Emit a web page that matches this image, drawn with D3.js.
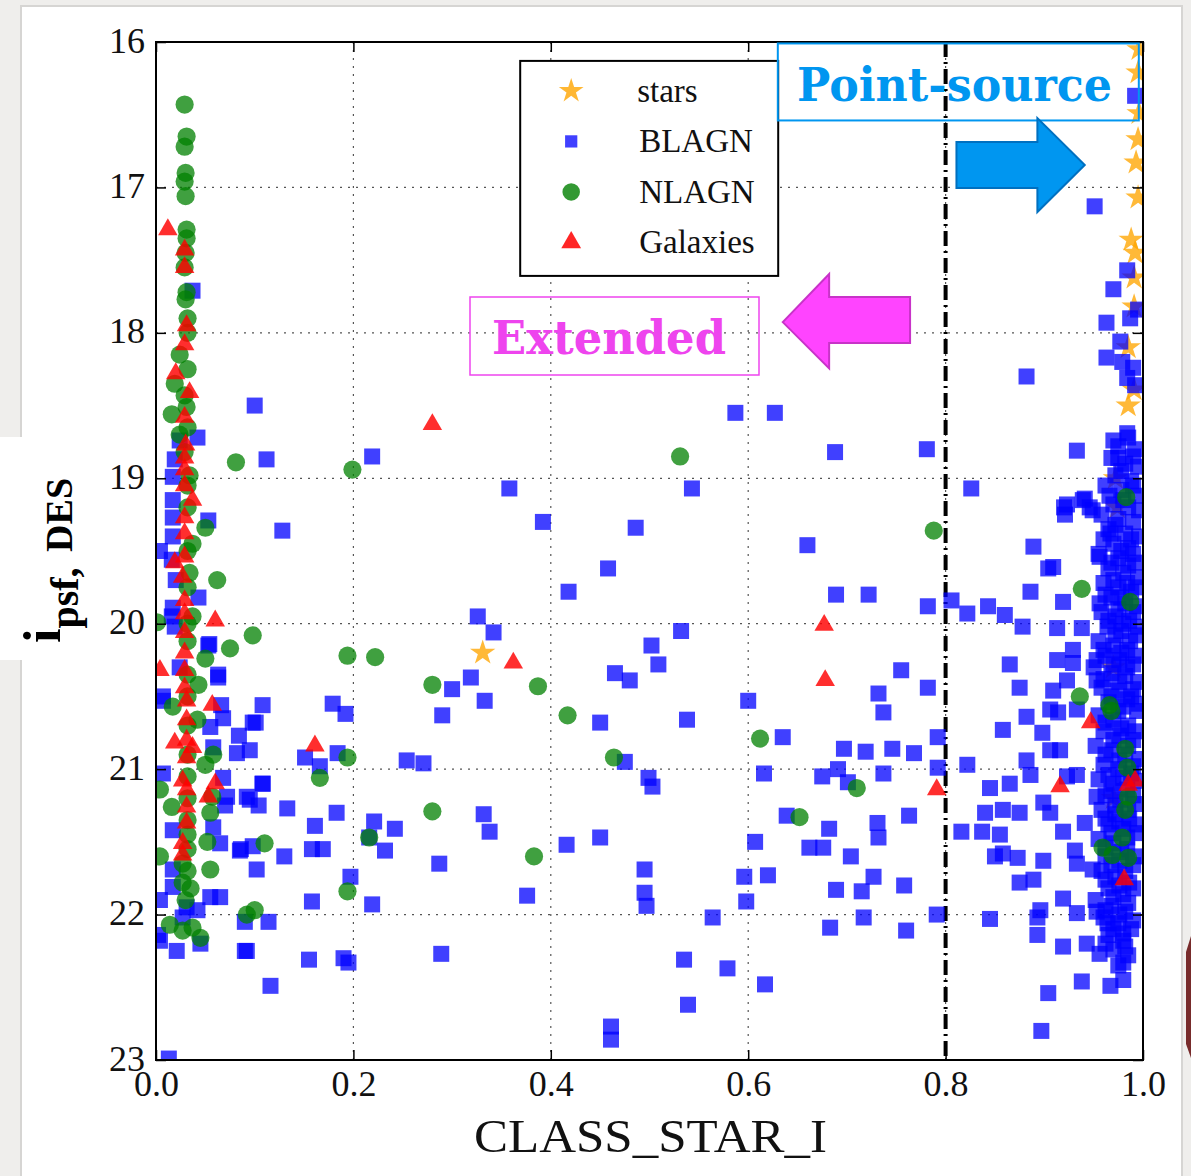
<!DOCTYPE html>
<html><head><meta charset="utf-8">
<script src="https://cdn.jsdelivr.net/npm/d3@7"></script>
<style>body{margin:0;background:#efeeec;} svg{display:block}</style>
</head><body>
<svg id="c" width="1191" height="1176"></svg>
<script>
// ---------------- DATA ----------------
const xTicks = [0.0, 0.2, 0.4, 0.6, 0.8, 1.0];
const yTicks = [16, 17, 18, 19, 20, 21, 22, 23];
const legendLabels = ["stars", "BLAGN", "NLAGN", "Galaxies"];
const xLabel = "CLASS_STAR_I";
const cutValue = 0.8;

const starsData = [
  [0.331,20.2],
  [0.996,16.05],[0.995,16.21],[0.996,16.49],[0.995,16.67],[0.993,16.83],[0.995,17.07],
  [0.988,17.36],[0.992,17.45],[0.991,17.62],[0.991,17.82],[0.985,18.1],[0.991,18.39],
  [0.985,18.5],[0.972,19.0],[0.974,19.2],[0.97,20.3],[0.97,21.2]
];

const blagnLeft = [
  [0.037,17.71],[0.042,18.72],[0.024,18.74],[0.019,18.87],[0.017,18.99],[0.017,19.15],[0.017,19.27],
  [0.053,19.29],[0.017,19.4],[0.004,19.5],[0.016,19.56],[0.02,19.7],[0.043,19.82],[0.017,19.89],
  [0.016,19.95],[0.019,20.02],[0.053,20.15],[0.024,20.3],[0.063,20.35],[0.007,20.5],[0.007,20.53],
  [0.108,20.56],[0.098,20.68],[0.068,20.65],[0.055,20.71],[0.082,20.89],[0.095,20.87],[0.058,20.85],
  [0.007,21.03],[0.068,21.06],[0.108,21.1],[0.072,21.19],[0.095,21.21],[0.058,21.4],[0.017,21.42],
  [0.085,21.56],[0.065,21.51],[0.102,21.69],[0.017,21.69],[0.017,21.81],[0.004,21.9],[0.031,21.95],
  [0.042,21.97],[0.055,21.88],[0.065,21.88],[0.027,22.02],[0.092,22.25],[0.021,22.25],[0.004,22.18],
  [0.045,22.2],[0.002,22.14],[0.013,22.99]
];

const blagnMid = [
  [0.1,18.5],[0.112,18.87],[0.219,18.85],[0.358,19.07],[0.543,19.07],[0.392,19.3],[0.486,19.34],
  [0.128,19.36],[0.66,19.46],[0.781,18.8],[0.826,19.07],[0.587,18.55],[0.627,18.55],[0.688,18.82],
  [0.458,19.62],[0.418,19.78],[0.326,19.95],[0.342,20.06],[0.689,19.8],[0.722,19.8],[0.782,19.88],
  [0.806,19.84],[0.822,19.93],[0.843,19.88],[0.886,19.78],[0.904,19.62],[0.889,19.47],[0.92,19.2],
  [0.941,19.14],[0.949,19.22],
  [0.319,20.37],[0.3,20.45],[0.333,20.53],[0.29,20.63],[0.509,20.28],[0.48,20.39],[0.465,20.34],
  [0.502,20.15],[0.532,20.05],[0.45,20.68],[0.538,20.66],[0.6,20.53],[0.755,20.32],[0.732,20.48],
  [0.737,20.61],[0.782,20.44],[0.179,20.55],[0.192,20.62],[0.101,20.68],[0.084,20.77],[0.066,20.56],
  [0.063,20.37],[0.054,20.14],
  [0.635,20.78],[0.697,20.86],[0.719,20.88],[0.746,20.86],[0.768,20.89],[0.792,20.78],
  [0.151,20.92],[0.166,20.98],[0.254,20.94],[0.271,20.96],[0.184,20.89],[0.475,20.95],[0.499,21.06],
  [0.503,21.12],[0.616,21.03],[0.675,21.05],[0.691,21.0],[0.701,21.09],[0.737,21.03],[0.792,20.99],
  [0.822,20.97],[0.108,21.1],[0.092,21.19],[0.07,21.25],
  [0.104,21.25],[0.133,21.27],[0.161,21.39],[0.183,21.3],[0.216,21.47],[0.221,21.36],[0.242,21.41],
  [0.332,21.31],[0.338,21.43],[0.086,21.55],[0.098,21.53],[0.13,21.6],[0.158,21.55],[0.169,21.55],
  [0.232,21.56],[0.416,21.52],[0.45,21.47],
  [0.607,21.5],[0.639,21.32],[0.662,21.54],[0.676,21.54],[0.682,21.41],[0.704,21.6],[0.731,21.37],
  [0.732,21.47],[0.763,21.32],[0.837,21.43],[0.816,21.43],
  [0.495,21.69],[0.495,21.85],[0.497,21.94],[0.596,21.74],[0.62,21.73],[0.689,21.83],[0.715,21.84],
  [0.727,21.74],[0.758,21.8],[0.287,21.65],[0.376,21.87],[0.219,21.93],[0.158,21.91],[0.114,22.05],
  [0.09,22.05],[0.197,21.74],
  [0.564,22.02],[0.598,21.91],[0.683,22.09],[0.717,22.02],[0.76,22.11],[0.791,22.0],[0.845,22.03],
  [0.09,22.25],[0.155,22.31],[0.19,22.3],[0.195,22.33],[0.289,22.27],[0.116,22.49],[0.535,22.31],
  [0.579,22.37],[0.617,22.48],[0.539,22.62],[0.461,22.77],[0.461,22.86]
];

const blagnRight = [
  [0.992,16.37],[0.951,17.13],[0.97,17.7],[0.984,17.57],[0.963,17.93],[0.987,17.9],[0.995,17.84],
  [0.977,18.06],[0.963,18.17],[0.979,18.2],[0.99,18.24],[0.984,18.31],[0.882,18.3],[0.992,18.36],
  [0.984,18.69],[0.97,18.74],[0.933,18.81],[0.975,18.86],[0.99,18.85],[0.939,19.15],[0.923,19.18],
  [0.946,19.2],[0.921,19.25],[0.967,19.38],[0.956,19.54],[0.909,19.61],[0.919,19.85],[0.913,20.03],
  [0.938,20.03],[0.956,19.86],[0.929,20.18],[0.913,20.25],[0.929,20.27],[0.923,20.39],[0.953,20.25],
  [0.909,20.46],[0.953,20.39],[0.914,20.61],[0.933,20.59],
  [0.882,20.64],[0.906,20.59],[0.858,20.73],[0.898,20.75],[0.882,20.94],[0.906,20.87],[0.916,20.87],
  [0.865,21.1],[0.886,21.04],[0.923,21.05],[0.933,21.04],[0.953,21.19],[0.858,21.28],[0.875,21.3],
  [0.899,21.23],[0.906,21.3],[0.919,21.43],[0.941,21.37],[0.931,21.56],[0.858,21.58],[0.873,21.61],
  [0.899,21.63],[0.933,21.65],[0.949,21.69],[0.875,21.78],[0.889,21.76],[0.919,21.89],[0.896,21.97],
  [0.893,22.02],[0.933,21.99],[0.953,21.98],[0.964,22.06],[0.893,22.14],[0.919,22.22],[0.943,22.2],
  [0.956,22.27],[0.98,22.13],[0.98,22.33],[0.938,22.46],[0.967,22.49],[0.904,22.54],[0.897,22.8],
  [0.84,21.3],[0.85,21.6],[0.855,21.45],[0.845,21.13],[0.86,19.94],[0.878,20.02],[0.865,20.28],
  [0.875,20.44]
];

const blagnDense = [
  [0.985,18.72],[0.975,18.78],[0.992,18.8],[0.968,18.86],[0.982,18.9],[0.995,18.92],[0.972,18.98],
  [0.988,19.02],[0.962,19.05],[0.978,19.08],[0.993,19.12],[0.97,19.18],[0.985,19.2],[0.958,19.25],
  [0.975,19.28],[0.99,19.3],[0.965,19.35],[0.982,19.38],[0.996,19.4],[0.97,19.45],[0.985,19.48],
  [0.955,19.52],[0.975,19.55],[0.992,19.58],[0.965,19.62],[0.98,19.65],[0.995,19.68],[0.96,19.72],
  [0.975,19.75],[0.988,19.78],[0.968,19.82],[0.982,19.86],[0.994,19.88],[0.958,19.92],[0.972,19.95],
  [0.986,19.98],[0.964,20.02],[0.978,20.05],[0.993,20.08],[0.955,20.12],[0.97,20.15],[0.984,20.18],
  [0.962,20.22],[0.976,20.25],[0.99,20.28],[0.95,20.3],[0.968,20.34],[0.982,20.36],[0.995,20.4],
  [0.958,20.44],[0.974,20.46],[0.988,20.5],[0.965,20.54],[0.98,20.57],[0.994,20.6],[0.955,20.63],
  [0.97,20.66],[0.985,20.7],[0.96,20.74],[0.976,20.77],[0.99,20.8],[0.952,20.84],[0.968,20.87],
  [0.982,20.9],[0.996,20.93],[0.96,20.97],[0.975,21.0],[0.988,21.03],[0.955,21.07],[0.97,21.1],
  [0.984,21.14],[0.962,21.18],[0.977,21.21],[0.992,21.24],[0.958,21.28],[0.972,21.31],[0.986,21.34],
  [0.965,21.38],[0.98,21.41],[0.994,21.44],[0.955,21.48],[0.97,21.51],[0.984,21.55],[0.962,21.6],
  [0.976,21.63],[0.99,21.66],[0.958,21.7],[0.972,21.74],[0.986,21.78],[0.965,21.82],[0.98,21.86],
  [0.952,21.9],[0.968,21.94],[0.982,21.98],[0.96,22.02],[0.975,22.06],[0.988,22.1],[0.965,22.14],
  [0.98,22.18],[0.97,22.24],[0.985,22.28],[0.975,22.35],[0.98,22.45]
];

const blagnDense2 = [
  [0.978,18.95],[0.99,19.05],[0.966,19.12],[0.98,19.15],[0.996,19.22],[0.972,19.32],[0.988,19.42],
  [0.96,19.42],[0.978,19.5],[0.99,19.52],[0.968,19.58],[0.985,19.6],[0.97,19.7],[0.984,19.72],
  [0.993,19.75],[0.962,19.8],[0.978,19.82],[0.99,19.92],[0.975,19.9],[0.965,19.98],[0.98,20.0],
  [0.995,20.02],[0.972,20.08],[0.987,20.12],[0.96,20.18],[0.978,20.2],[0.993,20.22],[0.97,20.28],
  [0.984,20.3],[0.96,20.38],[0.976,20.4],[0.99,20.45],[0.968,20.5],[0.984,20.52],[0.996,20.55],
  [0.975,20.6],[0.962,20.68],[0.978,20.72],[0.992,20.74],[0.97,20.8],[0.985,20.84],[0.962,20.9],
  [0.976,20.94],[0.99,20.98],[0.965,21.04],[0.98,21.06],[0.995,21.08],[0.968,21.15],[0.99,21.18],
  [0.972,21.25],[0.985,21.28],[0.962,21.34],[0.976,21.36],[0.992,21.38],[0.968,21.44],[0.984,21.47],
  [0.962,21.54],[0.978,21.57],[0.992,21.6],[0.968,21.66],[0.982,21.7],[0.962,21.76],[0.976,21.8],
  [0.99,21.82],[0.97,21.88],[0.985,21.92],[0.962,21.97],[0.976,22.0],[0.99,22.04],[0.97,22.1],
  [0.982,22.22],[0.962,22.2]
];

const nlagnData = [
  [0.029,16.43],[0.031,16.65],[0.029,16.72],[0.03,16.9],[0.029,16.96],[0.03,17.06],[0.031,17.29],
  [0.031,17.35],[0.03,17.45],[0.029,17.55],[0.031,17.72],[0.03,17.77],[0.032,17.9],[0.032,18.0],
  [0.024,18.15],[0.032,18.25],[0.019,18.35],[0.029,18.43],[0.016,18.56],[0.031,18.51],[0.032,18.65],
  [0.024,18.7],[0.029,18.82],[0.034,18.98],[0.032,19.05],[0.032,19.2],[0.05,19.34],[0.037,19.45],
  [0.032,19.5],[0.034,19.65],[0.062,19.7],[0.032,19.75],[0.037,19.95],[0.001,19.99],[0.032,20.0],
  [0.032,20.12],[0.075,20.17],[0.098,20.08],[0.05,20.24],[0.032,20.35],[0.043,20.42],[0.032,20.5],
  [0.017,20.57],[0.042,20.66],[0.032,20.7],[0.058,20.9],[0.032,20.9],[0.05,20.97],[0.032,21.05],
  [0.004,21.14],[0.032,21.2],[0.016,21.26],[0.057,21.19],[0.055,21.3],[0.032,21.35],[0.032,21.45],
  [0.052,21.5],[0.032,21.55],[0.004,21.6],[0.055,21.69],[0.027,21.65],[0.032,21.7],[0.027,21.78],
  [0.035,21.82],[0.03,21.9],[0.014,22.07],[0.027,22.11],[0.037,22.09],[0.045,22.16],[0.092,22.0],
  [0.1,21.97],
  [0.081,18.89],[0.199,18.94],[0.531,18.85],[0.788,19.36],[0.194,20.22],[0.222,20.23],[0.28,20.42],
  [0.387,20.43],[0.417,20.63],[0.464,20.92],[0.612,20.79],[0.166,21.06],[0.194,20.92],[0.11,21.51],
  [0.216,21.47],[0.28,21.29],[0.383,21.6],[0.194,21.84],[0.652,21.33],[0.71,21.13],
  [0.938,19.76],[0.987,19.85],[0.983,19.13],[0.936,20.5],[0.966,20.56],[0.968,20.6],[0.982,20.86],
  [0.984,20.99],[0.985,21.19],[0.982,21.28],[0.979,21.47],[0.959,21.54],[0.969,21.59],[0.985,21.61]
];

const galaxiesData = [
  [0.012,17.29],[0.029,17.43],[0.029,17.55],[0.031,17.95],[0.029,18.08],[0.02,18.28],[0.034,18.41],
  [0.029,18.58],[0.03,18.77],[0.029,18.86],[0.029,18.94],[0.037,19.15],[0.029,19.05],[0.029,19.27],
  [0.029,19.38],[0.029,19.54],[0.019,19.58],[0.027,19.68],[0.029,19.84],[0.029,19.93],[0.06,19.98],
  [0.029,20.06],[0.029,20.2],[0.029,20.32],[0.004,20.32],[0.029,20.44],[0.031,20.53],[0.057,20.56],
  [0.031,20.66],[0.031,20.8],[0.019,20.82],[0.037,20.85],[0.031,20.92],[0.027,21.08],[0.06,21.1],
  [0.053,21.19],[0.031,21.14],[0.031,21.26],[0.031,21.37],[0.027,21.51],[0.027,21.59],
  [0.28,18.63],[0.362,20.27],[0.161,20.84],[0.677,20.01],[0.678,20.39],[0.791,21.14],[0.916,21.12],
  [0.947,20.68],[0.985,21.11],[0.992,21.08],[0.981,21.76]
];

// ---------------- LAYOUT ----------------
const W = 1191, H = 1176;
const M = {left: 156, right: 1143, top: 42, bottom: 1060};
const svg = d3.select("#c");

// page background and panel
svg.append("rect").attr("width", W).attr("height", H).attr("fill", "#efeeec");
svg.append("rect").attr("x", 20).attr("y", 5).attr("width", 1163).attr("height", H).attr("fill", "#d6d5d3");
svg.append("rect").attr("x", 22).attr("y", 7).attr("width", 1159).attr("height", H).attr("fill", "#ffffff");
svg.append("path").attr("d", "M1191,936 L1186,952 L1186,1044 L1191,1058 Z").attr("fill", "#772b2b");
svg.append("rect").attr("x", 0).attr("y", 437).attr("width", 72).attr("height", 223).attr("fill", "#ffffff");

const x = d3.scaleLinear().domain([0, 1]).range([M.left, M.right]);
const y = d3.scaleLinear().domain([16, 23]).range([M.top, M.bottom]);

const serif = "'Liberation Serif','Times New Roman',serif";

// grid
const grid = svg.append("g").attr("stroke", "#555").attr("stroke-width", 1.2).attr("stroke-dasharray", "2,6");
grid.selectAll(".gx").data(xTicks.slice(1, -1)).join("line")
  .attr("x1", d => x(d)).attr("x2", d => x(d)).attr("y1", M.top).attr("y2", M.bottom);
grid.selectAll(".gy").data(yTicks.slice(1, -1)).join("line")
  .attr("y1", d => y(d)).attr("y2", d => y(d)).attr("x1", M.left).attr("x2", M.right);

// dash-dot cut line
svg.append("line").attr("x1", x(cutValue)).attr("x2", x(cutValue)).attr("y1", M.top).attr("y2", M.bottom)
  .attr("stroke", "#000").attr("stroke-width", 4).attr("stroke-dasharray", "15,5,2,5");

// clip
svg.append("clipPath").attr("id", "clip").append("rect")
  .attr("x", M.left).attr("y", M.top).attr("width", M.right - M.left).attr("height", M.bottom - M.top);
const plot = svg.append("g").attr("clip-path", "url(#clip)");

const symStar = d3.symbol().type(d3.symbolStar).size(200);
const symSquare = d3.symbol().type(d3.symbolSquare).size(256);
const symCircle = d3.symbol().type(d3.symbolCircle).size(260);
const symTri = d3.symbol().type(d3.symbolTriangle).size(165);

function drawSeries(data, sym, color, op) {
  plot.append("g").selectAll("path").data(data).join("path")
    .attr("d", sym())
    .attr("transform", d => `translate(${x(d[0])},${y(d[1])})`)
    .attr("fill", color).attr("fill-opacity", op);
}
drawSeries(starsData, symStar, "#ffa500", 0.78);
drawSeries(blagnLeft.concat(blagnMid, blagnRight, blagnDense, blagnDense2), symSquare, "#0000ff", 0.75);
drawSeries(nlagnData, symCircle, "#008000", 0.75);
drawSeries(galaxiesData, symTri, "#ff0000", 0.82);

// axes (ticks inward)
function styleAxis(g) {
  g.select(".domain").remove();
  g.selectAll(".tick line").attr("stroke", "#000").attr("stroke-width", 1.5);
  g.selectAll(".tick text").attr("font-family", serif).attr("font-size", 36).attr("fill", "#111");
}
svg.append("g").attr("transform", `translate(0,${M.bottom})`)
  .call(d3.axisBottom(x).tickValues(xTicks).tickFormat(d3.format(".1f")).tickSizeInner(-10).tickPadding(10))
  .call(styleAxis);
svg.append("g").attr("transform", `translate(0,${M.top})`)
  .call(d3.axisTop(x).tickValues(xTicks).tickFormat("").tickSizeInner(-10)).call(styleAxis);
const yAxisG = svg.append("g").attr("transform", `translate(${M.left},0)`)
  .call(d3.axisLeft(y).tickValues(yTicks).tickFormat(d3.format("d")).tickSizeInner(-10).tickPadding(11))
  .call(styleAxis);
yAxisG.selectAll(".tick text").attr("dy", "0.28em");
svg.append("g").attr("transform", `translate(${M.right},0)`)
  .call(d3.axisRight(y).tickValues(yTicks).tickFormat("").tickSizeInner(-10)).call(styleAxis);

// frame
svg.append("rect").attr("x", M.left).attr("y", M.top).attr("width", M.right - M.left).attr("height", M.bottom - M.top)
  .attr("fill", "none").attr("stroke", "#000").attr("stroke-width", 2);

// axis labels
svg.append("text").attr("x", (M.left + M.right) / 2 + 1).attr("y", 1152).attr("text-anchor", "middle")
  .attr("font-family", serif).attr("font-size", 46).attr("fill", "#111")
  .attr("textLength", 353).attr("lengthAdjust", "spacingAndGlyphs").text(xLabel);

const yl = svg.append("text").attr("transform", "translate(60,643) rotate(-90)")
  .attr("font-family", serif).attr("font-weight", "bold").attr("fill", "#000");
yl.append("tspan").attr("font-size", 52).text("i");
yl.append("tspan").attr("font-size", 40).attr("dy", 18).text("psf,");
yl.append("tspan").attr("font-size", 38).attr("dy", -6).attr("dx", 6).text(" DES");

// legend
const lg = svg.append("g").attr("transform", `translate(${x(0.369)},${y(16.13)})`);
lg.append("rect").attr("width", 258).attr("height", 215).attr("fill", "#fff")
  .attr("stroke", "#000").attr("stroke-width", 2);
const legSyms = [
  {sym: d3.symbol().type(d3.symbolStar).size(190), color: "#ffa500", op: 0.8},
  {sym: d3.symbol().type(d3.symbolSquare).size(150), color: "#0000ff", op: 0.75},
  {sym: d3.symbol().type(d3.symbolCircle).size(240), color: "#008000", op: 0.8},
  {sym: d3.symbol().type(d3.symbolTriangle).size(170), color: "#ff0000", op: 0.85}
];
legendLabels.forEach((lab, i) => {
  const cy = 30 + i * 50.5;
  lg.append("path").attr("d", legSyms[i].sym()).attr("transform", `translate(51,${cy})`)
    .attr("fill", legSyms[i].color).attr("fill-opacity", legSyms[i].op);
  lg.append("text").attr("x", i === 0 ? 117 : 119).attr("y", cy + 11)
    .attr("font-family", serif).attr("font-size", 33).attr("fill", "#111").text(lab);
});

// annotations
const deco = "'DejaVu Serif','Liberation Serif',serif";
svg.append("rect").attr("x", x(0.63)).attr("y", y(16.01)).attr("width", 361).attr("height", 77)
  .attr("fill", "none").attr("stroke", "#0096f0").attr("stroke-width", 2);
svg.append("text").attr("x", 797).attr("y", 101).attr("font-family", deco).attr("font-weight", "bold")
  .attr("font-size", 46).attr("fill", "#0096f0").attr("textLength", 315).attr("lengthAdjust", "spacingAndGlyphs")
  .text("Point-source");
svg.append("rect").attr("x", 470).attr("y", 297).attr("width", 289).attr("height", 78)
  .attr("fill", "none").attr("stroke", "#ee44ee").attr("stroke-width", 1.5);
svg.append("text").attr("x", 492).attr("y", 354).attr("font-family", deco).attr("font-weight", "bold")
  .attr("font-size", 46).attr("fill", "#ee44ee").attr("textLength", 234).attr("lengthAdjust", "spacingAndGlyphs")
  .text("Extended");

// arrows (defined in data units)
const magentaArrow = [[0.635,17.926],[0.682,17.595],[0.682,17.753],[0.764,17.753],[0.764,18.07],[0.682,18.07],[0.682,18.244]];
const blueArrow = [[0.811,16.688],[0.893,16.688],[0.893,16.523],[0.941,16.846],[0.893,17.169],[0.893,17.004],[0.811,17.004]];
const line = d3.line().x(d => x(d[0])).y(d => y(d[1]));
svg.append("path").attr("d", line(magentaArrow) + "Z").attr("fill", "#ff44ff").attr("stroke", "#c833c8").attr("stroke-width", 2);
svg.append("path").attr("d", line(blueArrow) + "Z").attr("fill", "#0096f0").attr("stroke", "#0070c0").attr("stroke-width", 2);
</script>
</body></html>
